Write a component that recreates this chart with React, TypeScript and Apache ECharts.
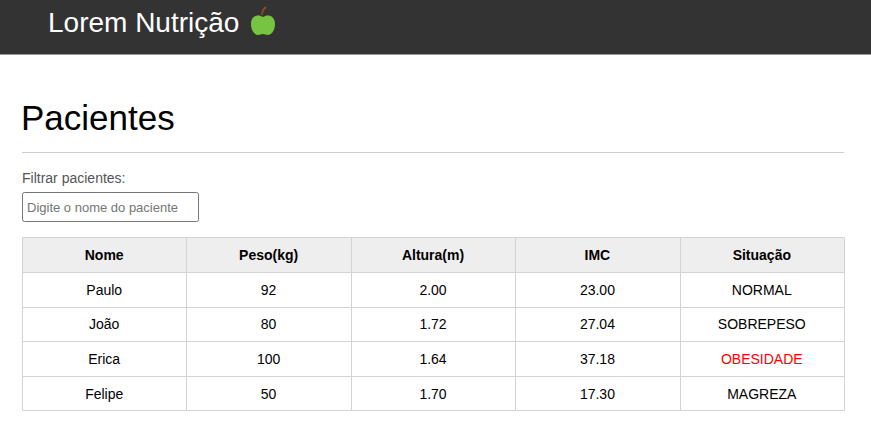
import React, { useEffect, useRef } from "react";
import * as echarts from "echarts";

const columns = ["Nome", "Peso(kg)", "Altura(m)", "IMC", "Situação"];
const nomes = ["Paulo", "João", "Erica", "Felipe"];
const pesos = [92, 80, 100, 50];
const alturas = [2.0, 1.72, 1.64, 1.7];
const imcs = [23.0, 27.04, 37.18, 17.3];
const situacoes = ["NORMAL", "SOBREPESO", "OBESIDADE", "MAGREZA"];

const FONT = "'Liberation Sans', Arial, sans-serif";

type Cell = { c: number; r: number; text: string; header: boolean; color: string };

function buildCells(): Cell[] {
  const cells: Cell[] = [];
  columns.forEach((t, c) => cells.push({ c, r: 0, text: t, header: true, color: "#000000" }));
  nomes.forEach((nome, i) => {
    const r = i + 1;
    const row = [
      nome,
      String(pesos[i]),
      alturas[i].toFixed(2),
      imcs[i].toFixed(2),
      situacoes[i],
    ];
    row.forEach((t, c) =>
      cells.push({
        c,
        r,
        text: t,
        header: false,
        color: situacoes[i] === "OBESIDADE" && c === 4 ? "#ff0000" : "#000000",
      })
    );
  });
  return cells;
}

const APPLE_D =
  "M12,4 C8,1 0,2 0,11 C0,18 4,22 7,22 C9,22 10,21 12,21 C14,21 15,22 17,22 C20,22 24,18 24,11 C24,2 16,1 12,4 Z";

export default function App() {
  const ref = useRef<HTMLDivElement>(null);
  useEffect(() => {
    if (!ref.current) return;
    try {
      echarts.graphic.registerShape("apple", echarts.graphic.extendPath(APPLE_D, {}));
    } catch (e) {}
    const chart = echarts.init(ref.current, null, { renderer: "svg" });
    const cells = buildCells();
    const rowLabels = ["header", ...nomes];
    chart.setOption({
      animation: false,
      backgroundColor: "#ffffff",
      grid: { left: 22, top: 237.3, width: 822, height: 173, containLabel: false },
      xAxis: {
        type: "category",
        data: columns,
        show: false,
      },
      yAxis: {
        type: "category",
        data: rowLabels,
        inverse: true,
        show: false,
      },
      graphic: [
        { type: "rect", shape: { x: 0, y: 0, width: 871, height: 54.5 }, style: { fill: "#333333" } },
        {
          type: "text",
          x: 48,
          y: 22,
          style: {
            text: "Lorem Nutrição",
            fill: "#ffffff",
            fontSize: 28,
            fontFamily: FONT,
            align: "left",
            verticalAlign: "middle",
          },
        },
        {
          type: "apple",
          x: 251,
          y: 13,
          style: { fill: "#76c442" },
        },
        {
          type: "bezierCurve",
          shape: { x1: 262, y1: 15, x2: 266, y2: 7, cpx1: 262, cpy1: 10 },
          style: { stroke: "#7b4a22", lineWidth: 2.2, fill: "none" },
        },
        {
          type: "text",
          x: 21,
          y: 117.5,
          style: {
            text: "Pacientes",
            fill: "#000000",
            fontSize: 35,
            fontFamily: FONT,
            align: "left",
            verticalAlign: "middle",
          },
        },
        {
          type: "line",
          shape: { x1: 22, y1: 152.5, x2: 844, y2: 152.5 },
          style: { stroke: "#cccccc", lineWidth: 1 },
        },
        {
          type: "text",
          x: 22,
          y: 177.7,
          style: {
            text: "Filtrar pacientes:",
            fill: "#555555",
            fontSize: 14,
            fontFamily: FONT,
            align: "left",
            verticalAlign: "middle",
          },
        },
        {
          type: "rect",
          shape: { x: 22.5, y: 192.5, width: 176, height: 29, r: 2 },
          style: { fill: "#ffffff", stroke: "#767676", lineWidth: 1 },
        },
        {
          type: "text",
          x: 27,
          y: 207,
          style: {
            text: "Digite o nome do paciente",
            fill: "#757575",
            fontSize: 13,
            fontFamily: FONT,
            align: "left",
            verticalAlign: "middle",
          },
        },
      ],
      series: [
        {
          type: "custom",
          coordinateSystem: "cartesian2d",
          data: cells.map((cell) => [cell.c, cell.r]),
          encode: { x: 0, y: 1 },
          renderItem: (params: any, api: any) => {
            const c = api.value(0);
            const r = api.value(1);
            const [cx, cy] = api.coord([c, r]);
            const [w, h] = api.size([1, 1]);
            const cell = cells[params.dataIndex];
            const x0 = Math.round(cx - w / 2) + 0.5;
            const x1 = Math.round(cx + w / 2) + 0.5;
            const y0 = Math.round(cy - h / 2) + 0.5;
            const y1 = Math.round(cy + h / 2) + 0.5;
            return {
              type: "group",
              children: [
                {
                  type: "rect",
                  shape: { x: x0, y: y0, width: x1 - x0, height: y1 - y0 },
                  style: {
                    fill: cell.header ? "#eeeeee" : "#ffffff",
                    stroke: "#d3d3d3",
                    lineWidth: 1,
                  },
                },
                {
                  type: "text",
                  x: cx,
                  y: cy + 0.5,
                  style: {
                    text: cell.text,
                    fill: cell.color,
                    fontSize: 14,
                    fontWeight: cell.header ? "bold" : "normal",
                    fontFamily: FONT,
                    align: "center",
                    verticalAlign: "middle",
                  },
                },
              ],
            };
          },
        },
      ],
    });
    return () => chart.dispose();
  }, []);
  return (
    <div
      ref={ref}
      style={{ position: "absolute", left: 0, top: 0, width: 871, height: 442, background: "#fff" }}
    />
  );
}
